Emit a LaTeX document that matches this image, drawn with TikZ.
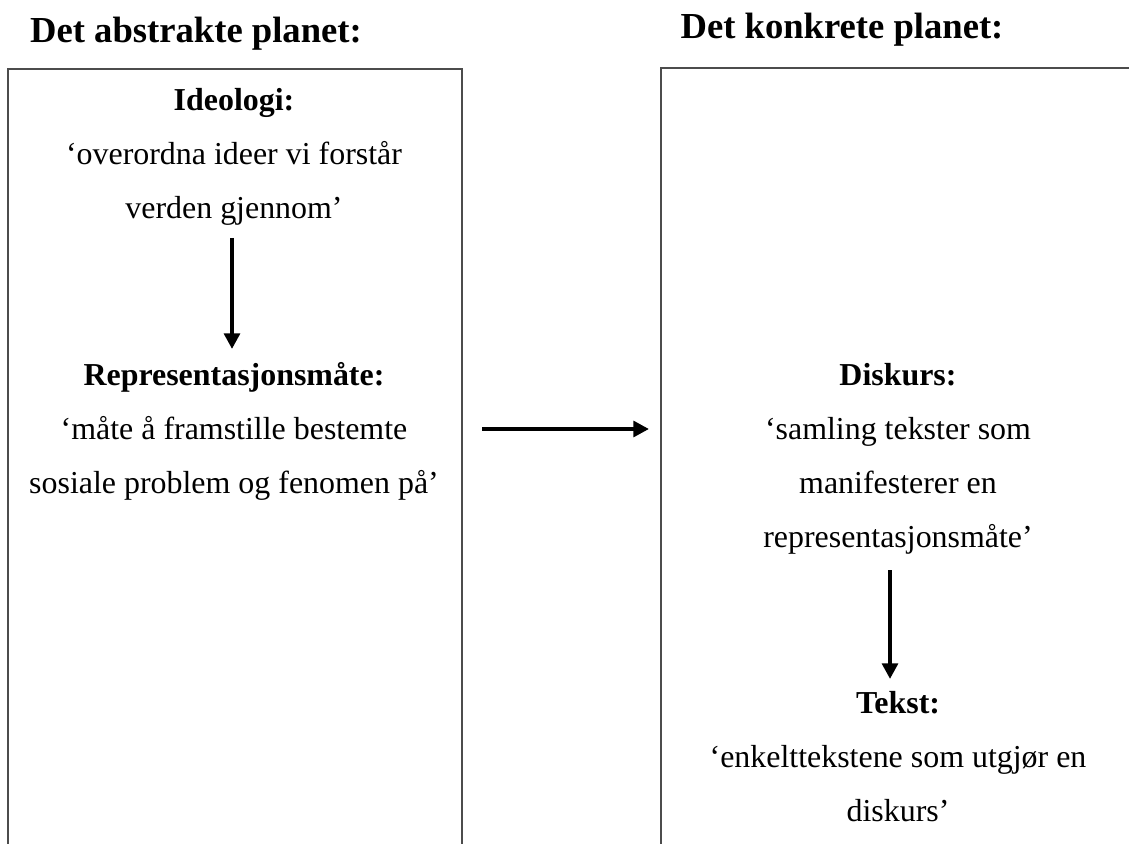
\documentclass[tikz,border=0pt]{standalone}
\usepackage{fontspec}
\setmainfont{Liberation Serif}
\usetikzlibrary{arrows.meta}
\begin{document}
\begin{tikzpicture}[x=0.3822pt,y=-0.3822pt,
  body/.style={anchor=base,inner sep=0pt,font=\fontsize{12.2pt}{14pt}\selectfont},
  head/.style={anchor=base,inner sep=0pt,font=\fontsize{12.2pt}{14pt}\selectfont\bfseries},
  title/.style={anchor=base,inner sep=0pt,font=\fontsize{14pt}{17pt}\selectfont\bfseries},
  frame/.style={draw=black!70,line width=0.75pt},
  flow/.style={draw=black,line width=1.6pt,-{Triangle[length=6pt,width=6pt]}}]
\useasboundingbox (0,0) rectangle (1129,843);
% titles
\node[title] (t1) at (196,43) {Det abstrakte planet:};
\node[title] (t2) at (842,39) {Det konkrete planet:};
% frames
\draw[frame] (8,845) -- (8,69) -- (462,69) -- (462,845);
\draw[frame] (661,845) -- (661,68) -- (1131,68);
% left column
\node[head] (ideo) at (234,111) {Ideologi:};
\node[body] (ideo1) at (234,165) {‘overordna ideer vi forstår};
\node[body] (ideo2) at (234,219) {verden gjennom’};
\node[head] (rep) at (234,385) {Representasjonsmåte:};
\node[body] (rep1) at (234,439) {‘måte å framstille bestemte};
\node[body] (rep2) at (234,493) {sosiale problem og fenomen på’};
% right column
\node[head] (disk) at (898,385) {Diskurs:};
\node[body] (disk1) at (898,439) {‘samling tekster som};
\node[body] (disk2) at (898,493) {manifesterer en};
\node[body] (disk3) at (898,547) {representasjonsmåte’};
\node[head] (tekst) at (898,713) {Tekst:};
\node[body] (tekst1) at (898,767) {‘enkelttekstene som utgjør en};
\node[body] (tekst2) at (898,821) {diskurs’};
% arrows
\coordinate (a1s) at (232,238);
\coordinate (a1e) at (232,349);
\coordinate (a2s) at (482,429);
\coordinate (a2e) at (649,429);
\coordinate (a3s) at (890,570);
\coordinate (a3e) at (890,679);
\draw[flow] (a1s) -- (a1e);
\draw[flow] (a2s) -- (a2e);
\draw[flow] (a3s) -- (a3e);
\end{tikzpicture}
\end{document}
